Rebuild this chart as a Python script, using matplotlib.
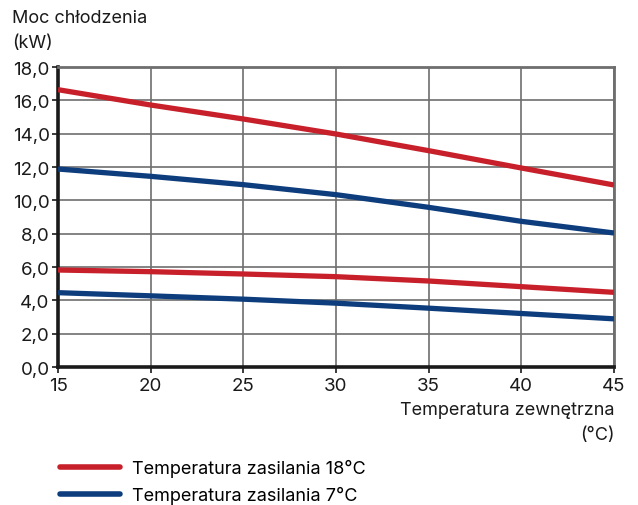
import matplotlib.pyplot as plt
from matplotlib.ticker import FuncFormatter

plt.rcParams["font.family"] = ["Inter", "DejaVu Sans"]

# Outdoor temperature (°C)
temp_out = [15, 20, 25, 30, 35, 40, 45]

# Cooling capacity (kW), upper and lower curves per supply temperature
red_hi = [16.64, 15.72, 14.88, 13.98, 12.98, 11.94, 10.92]
blue_hi = [11.88, 11.44, 10.94, 10.34, 9.58, 8.74, 8.04]
red_lo = [5.82, 5.72, 5.58, 5.42, 5.16, 4.82, 4.48]
blue_lo = [4.46, 4.27, 4.07, 3.83, 3.53, 3.21, 2.89]

legend_labels = ["Temperatura zasilania 18°C", "Temperatura zasilania 7°C"]

RED = "#c8202a"
BLUE = "#0d3d7d"

fig = plt.figure(figsize=(6.38, 5.06), dpi=100)
ax = fig.add_axes([58 / 638, 1 - 368 / 506, 556 / 638, 300 / 506])

lw = 3.8
h_red, = ax.plot(temp_out, red_hi, color=RED, lw=lw, solid_capstyle="butt", zorder=3)
ax.plot(temp_out, red_lo, color=RED, lw=lw, solid_capstyle="butt", zorder=3)
h_blue, = ax.plot(temp_out, blue_hi, color=BLUE, lw=lw, solid_capstyle="butt", zorder=3)
ax.plot(temp_out, blue_lo, color=BLUE, lw=lw, solid_capstyle="butt", zorder=3)

ax.set_xlim(15, 45)
ax.set_ylim(0, 18)
ax.set_xticks(range(15, 46, 5))
ax.set_yticks([0, 2, 4, 6, 8, 10, 12, 14, 16, 18])
ax.yaxis.set_major_formatter(FuncFormatter(lambda v, p: f"{v:.1f}".replace(".", ",")))
ax.grid(True, color="#6e6e6e", lw=1.2, zorder=1)
ax.tick_params(axis="both", labelsize=13.5, colors="#1a1a1a", length=4, width=1.2, pad=2)
ax.tick_params(axis="x", pad=3)

for side in ("left", "bottom"):
    ax.spines[side].set_color("#1a1a1a")
    ax.spines[side].set_linewidth(2.6)
for side in ("top", "right"):
    ax.spines[side].set_color("#6e6e6e")
    ax.spines[side].set_linewidth(2.0)

fig.text(12 / 638, 1 - 10 / 506, "Moc chłodzenia\n(kW)", ha="left", va="top",
         fontsize=13, color="#1a1a1a", linespacing=1.65)
fig.text(615 / 638, 1 - 402 / 506, "Temperatura zewnętrzna\n(°C)", ha="right", va="top",
         fontsize=13, color="#1a1a1a", linespacing=1.65, multialignment="right")

leg = fig.legend([h_red, h_blue], legend_labels, loc="upper left",
                 bbox_to_anchor=(44 / 638, 1 - 444 / 506), frameon=False,
                 fontsize=13, handlelength=3.3, handletextpad=0.7, labelspacing=0.5)
for line in leg.get_lines():
    line.set_solid_capstyle("round")
    line.set_linewidth(4.0)

fig.savefig("out.png", dpi=100)
